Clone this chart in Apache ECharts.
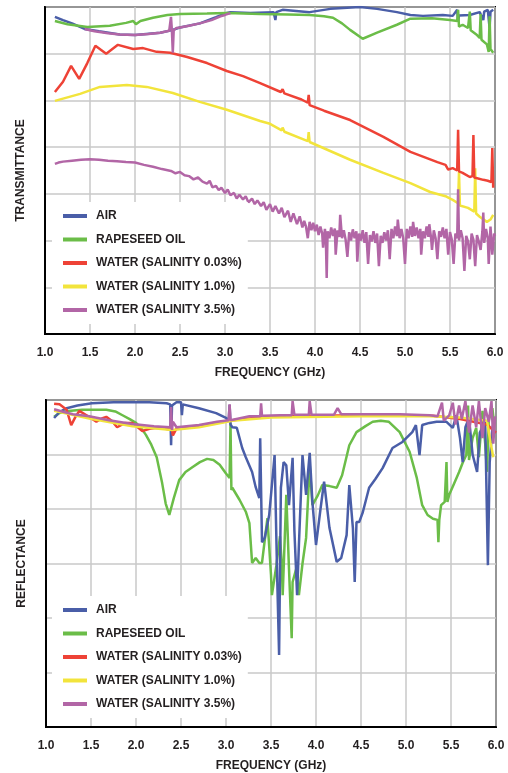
<!DOCTYPE html>
<html>
<head>
<meta charset="utf-8">
<script src="https://cdn.jsdelivr.net/npm/echarts@6/dist/echarts.min.js"></script>
<style>
  html, body { margin: 0; padding: 0; background: #fff; }
  #chart { width: 508px; height: 773px; }
</style>
</head>
<body>
<div id="chart"></div>
<script>
// legend names, in the order shown
var names = ['AIR', 'RAPESEED OIL', 'WATER (SALINITY 0.03%)', 'WATER (SALINITY 1.0%)', 'WATER (SALINITY 3.5%)'];
var colors = ['#4a5ea8', '#6bbd48', '#ee4236', '#f2e43c', '#b266a6'];
var freqTicks = ['1.0', '1.5', '2.0', '2.5', '3.0', '3.5', '4.0', '4.5', '5.0', '5.5', '6.0'];

// ---- transmittance (top), [GHz, value] ----
var transAir = [[1.11,6.79],[1.2,6.72],[1.3,6.65],[1.44,6.53],[1.6,6.48],[1.83,6.41],[2.0,6.40],[2.28,6.45],[2.4,6.5],
  [2.5,6.56],[2.72,6.65],[2.9,6.78],[3.0,6.86],[3.06,6.89],[3.28,6.87],[3.54,6.89],[3.56,6.72],[3.57,6.89],[3.64,6.94],
  [3.94,6.89],[4.17,6.96],[4.5,7.0],[4.69,6.96],[4.91,6.89],[5.06,6.83],[5.2,6.81],[5.42,6.83],[5.53,6.81],[5.58,6.94],
  [5.59,6.70],[5.6,6.82],[5.72,6.83],[5.83,6.89],[5.87,6.72],[5.88,6.9],[5.92,6.94],[5.94,6.55],[5.95,6.9],[5.98,6.94]];
var transOil = [[1.11,6.70],[1.25,6.63],[1.47,6.57],[1.72,6.60],[1.9,6.66],[1.98,6.70],[2.01,6.63],[2.06,6.70],[2.2,6.77],
  [2.36,6.83],[2.5,6.85],[2.8,6.86],[3.02,6.87],[3.39,6.85],[3.7,6.84],[3.94,6.83],[4.1,6.80],[4.2,6.77],[4.3,6.65],
  [4.39,6.51],[4.53,6.32],[4.69,6.45],[4.91,6.62],[5.06,6.75],[5.3,6.76],[5.5,6.72],[5.58,6.70],[5.59,6.94],[5.6,6.58],
  [5.64,6.62],[5.7,6.55],[5.72,6.9],[5.73,6.5],[5.8,6.40],[5.83,6.34],[5.84,6.85],[5.85,6.3],[5.91,6.2],[5.93,6.04],
  [5.94,6.8],[5.95,6.1],[5.98,6.02]];
var transW003 = [[1.11,5.18],[1.2,5.40],[1.29,5.74],[1.38,5.46],[1.47,5.80],[1.56,6.17],[1.68,6.00],[1.81,6.19],[1.98,6.10],
  [2.09,6.12],[2.24,6.04],[2.39,6.02],[2.58,5.93],[2.8,5.80],[3.02,5.63],[3.2,5.52],[3.39,5.37],[3.62,5.18],[3.64,5.24],
  [3.66,5.15],[3.85,5.02],[3.92,4.95],[3.93,5.12],[3.94,4.9],[4.1,4.78],[4.39,4.58],[4.76,4.22],[5.06,3.90],[5.36,3.68],
  [5.45,3.62],[5.48,3.52],[5.53,3.55],[5.58,3.50],[5.59,4.37],[5.6,3.48],[5.64,3.45],[5.72,3.36],[5.75,3.38],[5.76,4.26],
  [5.77,3.35],[5.87,3.30],[5.92,3.28],[5.96,3.25],[5.97,3.98],[5.98,3.13]];
var transW10 = [[1.11,4.99],[1.39,5.14],[1.61,5.29],[1.91,5.33],[2.13,5.29],[2.42,5.16],[2.72,4.97],[3.02,4.80],[3.39,4.56],
  [3.5,4.5],[3.63,4.36],[3.64,4.42],[3.66,4.33],[3.92,4.13],[3.93,4.32],[3.94,4.11],[4.39,3.73],[4.76,3.45],[5.06,3.23],
  [5.28,3.04],[5.45,2.95],[5.53,2.87],[5.59,2.80],[5.6,3.47],[5.61,2.75],[5.7,2.7],[5.77,2.62],[5.78,3.55],[5.79,2.58],
  [5.83,2.51],[5.91,2.40],[5.95,2.45],[5.98,2.55]];
var transW35 = [[1.11,3.64],[1.15,3.67],[1.2,3.69],[1.3,3.71],[1.4,3.73],[1.5,3.74],[1.6,3.73],[1.7,3.71],[1.8,3.70],
  [1.9,3.68],[2.0,3.67],[2.1,3.62],[2.2,3.58],[2.3,3.53],[2.4,3.49],[2.45,3.44],[2.5,3.47],[2.55,3.40],[2.6,3.38],
  [2.65,3.31],[2.7,3.35],[2.75,3.26],[2.8,3.22],[2.83,3.28],[2.86,3.14],[2.9,3.17],[2.93,3.08],[2.96,3.13],[3.0,3.02],
  [3.03,3.09],[3.06,2.97],[3.1,3.02],[3.13,2.90],[3.16,2.98],[3.2,2.88],[3.23,2.95],[3.26,2.82],[3.3,2.90],[3.33,2.78],
  [3.36,2.86],[3.4,2.74],[3.43,2.82],[3.46,2.66],[3.5,2.78],[3.53,2.62],[3.56,2.74],[3.6,2.58],[3.63,2.70],[3.66,2.50],
  [3.7,2.64],[3.73,2.40],[3.76,2.58],[3.8,2.35],[3.83,2.52],[3.86,2.28],[3.88,2.42],[3.9,2.30],[3.92,2.05],[3.94,2.40],
  [3.96,2.22],[3.98,2.38],[4.0,2.20],[4.02,2.34],[4.04,2.12],[4.06,2.30],[4.08,2.15],[4.09,1.85],[4.11,2.25],[4.12,2.10],
  [4.13,1.20],[4.14,2.20],[4.16,2.05],[4.18,2.28],[4.2,2.10],[4.22,2.26],[4.23,1.70],[4.25,2.22],[4.27,2.08],[4.28,2.55],
  [4.3,2.05],[4.32,2.22],[4.34,2.02],[4.36,1.65],[4.38,2.18],[4.40,2.00],[4.42,2.24],[4.44,2.05],[4.46,2.20],[4.47,1.55],
  [4.49,2.15],[4.51,2.00],[4.53,2.22],[4.55,1.95],[4.57,2.18],[4.59,1.50],[4.61,2.12],[4.63,1.98],[4.65,2.20],[4.67,1.95],
  [4.69,2.15],[4.71,1.45],[4.73,2.10],[4.75,1.95],[4.77,2.18],[4.79,2.00],[4.81,2.22],[4.83,1.60],[4.85,2.25],[4.87,2.05],
  [4.89,2.30],[4.91,2.10],[4.92,2.45],[4.94,2.05],[4.96,2.25],[4.98,2.05],[5.0,1.50],[5.02,2.25],[5.04,2.05],[5.06,2.30],
  [5.08,2.08],[5.09,2.40],[5.11,2.10],[5.13,2.28],[5.15,2.05],[5.17,2.25],[5.18,1.70],[5.2,2.20],[5.22,2.05],[5.24,2.30],
  [5.26,2.08],[5.27,2.35],[5.29,2.05],[5.3,1.80],[5.32,2.22],[5.34,2.05],[5.36,1.60],[5.38,2.20],[5.4,2.08],[5.42,2.28],
  [5.44,2.05],[5.46,2.25],[5.48,1.70],[5.5,2.18],[5.52,2.02],[5.54,1.50],[5.56,2.15],[5.58,2.05],[5.59,3.10],[5.6,2.00],
  [5.62,2.22],[5.64,2.05],[5.66,1.35],[5.68,2.10],[5.7,1.98],[5.72,1.60],[5.74,2.15],[5.76,2.02],[5.78,1.45],[5.8,2.12],
  [5.82,1.98],[5.84,1.80],[5.86,2.20],[5.87,2.60],[5.88,1.95],[5.9,2.25],[5.92,2.05],[5.93,1.50],[5.95,2.30],[5.97,1.70],
  [5.99,2.15],[6.0,2.10]];
// purple trace near the top of the transmittance plot
var transW35Top = [[1.44,6.53],[1.55,6.48],[1.7,6.44],[1.83,6.41],[2.0,6.40],[2.15,6.42],[2.28,6.45],[2.38,6.49],[2.4,6.79],
  [2.41,6.5],[2.42,6.02],[2.43,6.5],[2.46,6.55],[2.5,6.56],[2.6,6.6],[2.72,6.65],[2.85,6.72],[2.95,6.8],[3.0,6.83],[3.06,6.87]];

// ---- reflectance (bottom), [GHz, value] ----
var reflAir = [[1.09,5.67],[1.15,5.78],[1.23,5.85],[1.35,5.90],[1.51,5.94],[1.75,5.96],[1.96,5.96],[2.15,5.96],[2.34,5.94],
  [2.38,5.92],[2.39,5.17],[2.40,5.90],[2.45,5.96],[2.50,5.96],[2.51,5.72],[2.52,5.92],[2.70,5.85],[2.89,5.76],[3.0,5.67],
  [3.03,5.63],[3.04,5.91],[3.05,5.55],[3.07,5.50],[3.12,5.49],[3.18,5.12],[3.22,4.95],[3.29,4.68],[3.33,4.40],[3.37,4.20],
  [3.38,5.30],[3.40,3.39],[3.43,3.47],[3.48,3.89],[3.54,4.99],[3.57,2.66],[3.59,1.32],[3.61,4.39],[3.64,4.86],[3.67,4.80],
  [3.70,4.07],[3.74,4.94],[3.76,3.60],[3.79,2.42],[3.81,3.34],[3.85,4.99],[3.89,4.26],[3.93,5.03],[3.96,4.13],[4.00,3.34],
  [4.05,4.00],[4.09,4.50],[4.15,3.65],[4.23,3.03],[4.28,3.10],[4.34,3.52],[4.37,4.44],[4.41,3.65],[4.43,2.66],[4.45,3.76],
  [4.48,3.76],[4.52,3.94],[4.59,4.39],[4.66,4.55],[4.74,4.75],[4.85,5.12],[4.96,5.23],[5.07,5.41],[5.11,5.54],[5.15,4.99],
  [5.18,5.54],[5.26,5.58],[5.34,5.60],[5.45,5.60],[5.52,5.49],[5.56,5.72],[5.60,5.30],[5.63,4.86],[5.66,5.50],[5.70,5.67],
  [5.74,5.00],[5.79,4.68],[5.82,5.40],[5.85,5.49],[5.88,5.60],[5.91,2.97],[5.93,4.86],[5.96,5.49],[5.98,5.60]];
var reflOil = [[1.09,5.69],[1.15,5.76],[1.25,5.80],[1.40,5.82],[1.55,5.82],[1.67,5.82],[1.77,5.79],[1.85,5.72],[1.93,5.65],
  [2.00,5.58],[2.06,5.48],[2.11,5.36],[2.17,5.18],[2.23,4.95],[2.29,4.48],[2.33,4.10],[2.37,3.89],[2.42,4.20],[2.48,4.53],
  [2.55,4.68],[2.63,4.77],[2.71,4.86],[2.79,4.92],[2.86,4.90],[2.93,4.81],[3.0,4.65],[3.04,4.57],[3.05,5.58],[3.06,4.35],
  [3.07,4.39],[3.15,4.17],[3.22,3.95],[3.26,3.74],[3.29,3.01],[3.33,3.10],[3.37,3.01],[3.40,3.01],[3.46,3.83],[3.50,2.79],
  [3.51,2.42],[3.56,2.97],[3.60,3.50],[3.62,2.97],[3.63,2.42],[3.67,4.26],[3.70,2.90],[3.73,1.63],[3.74,2.66],[3.78,2.90],
  [3.81,2.42],[3.85,3.00],[3.89,3.47],[3.93,4.81],[3.96,4.07],[4.02,4.25],[4.07,4.44],[4.15,4.42],[4.23,4.39],[4.29,4.62],
  [4.37,5.17],[4.45,5.41],[4.55,5.52],[4.63,5.60],[4.72,5.62],[4.81,5.60],[4.93,5.41],[5.04,5.05],[5.12,4.57],[5.18,4.07],
  [5.24,3.89],[5.30,3.82],[5.35,3.80],[5.36,3.39],[5.37,3.80],[5.39,4.07],[5.43,4.13],[5.45,4.86],[5.46,4.13],[5.48,4.26],
  [5.53,4.45],[5.59,4.68],[5.63,4.85],[5.67,4.99],[5.69,5.90],[5.70,4.90],[5.74,5.30],[5.78,5.49],[5.81,4.95],[5.85,5.80],
  [5.88,5.20],[5.90,4.68],[5.92,5.63],[5.96,5.85],[5.98,5.55]];
var reflW003 = [[1.09,5.93],[1.15,5.92],[1.23,5.82],[1.28,5.54],[1.33,5.70],[1.37,5.80],[1.45,5.72],[1.56,5.60],[1.62,5.66],
  [1.67,5.69],[1.73,5.62],[1.79,5.50],[1.88,5.58],[1.96,5.58],[2.02,5.50],[2.07,5.43],[2.15,5.47],[2.23,5.49],[2.3,5.48],
  [2.40,5.45],[2.41,5.35],[2.45,5.48],[2.7,5.52],[3.07,5.63],[3.5,5.70],[4.5,5.72],[5.3,5.71],[5.6,5.65],[5.9,5.55],[6.0,5.40]];
var reflW10 = [[1.09,5.80],[1.48,5.66],[1.96,5.52],[2.4,5.45],[2.7,5.50],[3.07,5.62],[3.5,5.68],[4.5,5.70],[5.26,5.70],
  [5.6,5.68],[5.9,5.62],[5.94,5.21],[5.97,4.95]];
var reflW35 = [[1.09,5.83],[1.2,5.78],[1.3,5.74],[1.48,5.70],[1.7,5.63],[1.96,5.56],[2.2,5.52],[2.38,5.50],[2.39,5.87],
  [2.40,5.45],[2.41,5.60],[2.45,5.50],[2.7,5.54],[2.9,5.60],[3.03,5.63],[3.04,5.92],[3.05,5.63],[3.07,5.65],[3.26,5.70],
  [3.38,5.70],[3.39,5.94],[3.40,5.71],[3.6,5.72],[3.73,5.72],[3.74,5.98],[3.76,5.73],[3.92,5.73],[3.93,5.98],[3.95,5.73],
  [4.2,5.73],[4.24,5.85],[4.28,5.74],[4.37,5.74],[4.93,5.74],[5.26,5.72],[5.35,5.70],[5.40,5.95],[5.42,5.62],[5.48,5.72],
  [5.52,5.95],[5.55,5.55],[5.59,5.90],[5.62,5.65],[5.66,5.98],[5.70,5.40],[5.74,5.90],[5.78,5.50],[5.81,5.98],[5.85,5.30],
  [5.88,5.85],[5.92,5.60],[5.95,5.98],[5.97,5.20],[5.99,5.70]];

var labelFont = { color: '#231f20', fontFamily: 'Liberation Sans', fontWeight: 'bold', fontSize: 12 };

function xAxisFor(gridIndex) {
  return {
    type: 'value', gridIndex: gridIndex, min: 1, max: 6, interval: 0.5,
    name: 'FREQUENCY (GHz)', nameLocation: 'middle', nameGap: 33,
    nameTextStyle: labelFont,
    axisLine: { lineStyle: { color: '#000', width: 2 } },
    axisTick: { show: false },
    axisLabel: Object.assign({ margin: 13, formatter: function (v) { return freqTicks[Math.round((v - 1) * 2)]; } }, labelFont),
    splitLine: { lineStyle: { color: '#c9c9c9', width: 1.5 } }
  };
}
function yAxisFor(gridIndex, name, max) {
  return {
    type: 'value', gridIndex: gridIndex, min: 0, max: max, interval: 1,
    name: name, nameLocation: 'middle', nameGap: 18, nameRotate: 90,
    nameTextStyle: labelFont,
    axisLine: { lineStyle: { color: '#000', width: 2 } },
    axisTick: { show: false },
    axisLabel: { show: false },
    splitLine: { lineStyle: { color: '#c9c9c9', width: 1.5 } }
  };
}
function line(name, data, idx, colorIdx, z) {
  return {
    name: name, type: 'line', data: data, xAxisIndex: idx, yAxisIndex: idx,
    symbol: 'none', color: colors[colorIdx], z: z || 2,
    lineStyle: { width: 2.5, color: colors[colorIdx] }
  };
}
function legendAt(top) {
  return {
    data: names, orient: 'vertical', left: 52, top: top,
    icon: 'rect', itemWidth: 24, itemHeight: 4, itemGap: 11.5,
    padding: [8, 6, 8, 11], backgroundColor: '#fff',
    textStyle: Object.assign({ padding: [0, 0, 0, 4] }, labelFont),
    selectedMode: false
  };
}

var chart = echarts.init(document.getElementById('chart'), null, { renderer: 'canvas' });
chart.setOption({
  animation: false,
  backgroundColor: '#fff',
  grid: [
    { left: 45, top: 7, width: 450, height: 327, show: true, borderColor: '#000', borderWidth: 2, backgroundColor: 'transparent' },
    { left: 46, top: 400, width: 450, height: 327, show: true, borderColor: '#000', borderWidth: 2, backgroundColor: 'transparent' }
  ],
  xAxis: [xAxisFor(0), xAxisFor(1)],
  yAxis: [yAxisFor(0, 'TRANSMITTANCE', 7), yAxisFor(1, 'REFLECTANCE', 6)],
  legend: [legendAt(202), legendAt(596)],
  series: [
    line(names[0], transAir, 0, 0),
    line(names[1], transOil, 0, 1),
    line(names[3], transW10, 0, 3),
    line(names[2], transW003, 0, 2),
    line(names[4], transW35, 0, 4),
    line(names[4], transW35Top, 0, 4, 3),
    line(names[1], reflOil, 1, 1),
    line(names[0], reflAir, 1, 0),
    line(names[2], reflW003, 1, 2),
    line(names[3], reflW10, 1, 3),
    line(names[4], reflW35, 1, 4)
  ]
});
</script>
</body>
</html>
